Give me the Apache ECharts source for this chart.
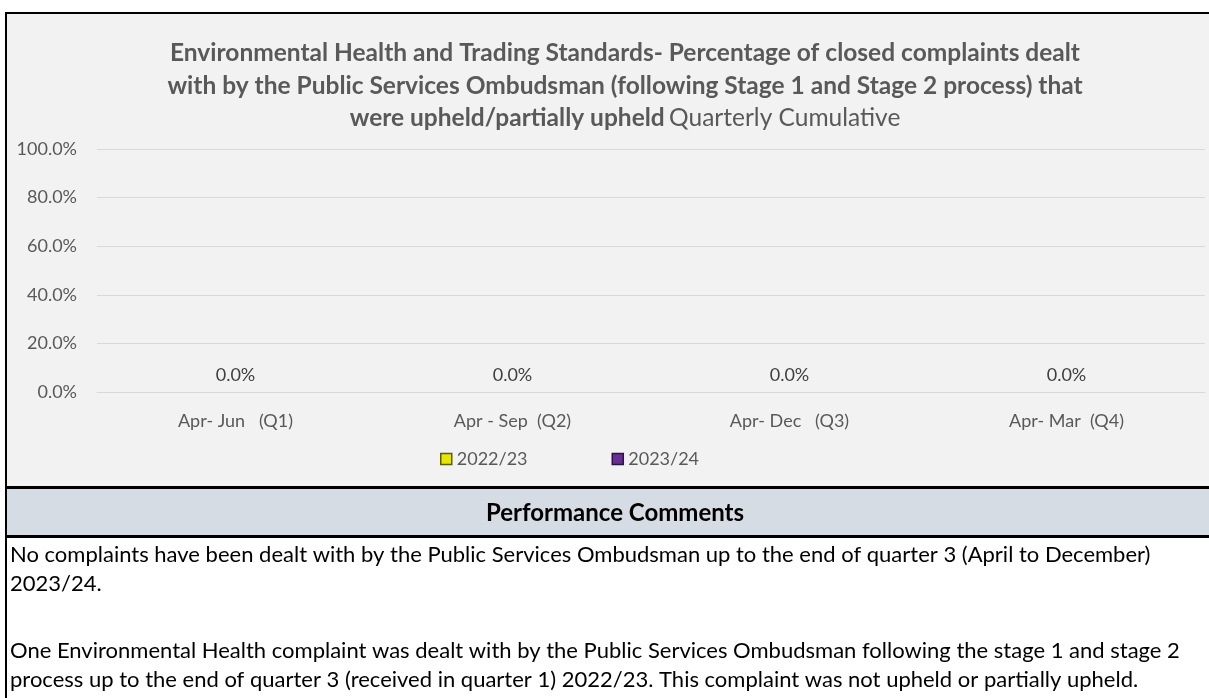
<!DOCTYPE html>
<html>
<head>
<meta charset="utf-8">
<script src="https://cdn.jsdelivr.net/npm/echarts@6/dist/echarts.min.js"></script>
<style>
html,body{margin:0;padding:0;background:#fff;}
#chart{width:1209px;height:698px;}
</style>
</head>
<body>
<div id="chart"></div>
<script>
var categories = ['Apr- Jun   (Q1)', 'Apr - Sep  (Q2)', 'Apr- Dec   (Q3)', 'Apr- Mar  (Q4)'];
var seriesNames = ['2022/23', '2023/24'];
var values2022 = [0, 0, 0, 0];
var values2023 = [0, 0, 0, null];
var yTicks = [0, 0.2, 0.4, 0.6, 0.8, 1.0];
var titleLines = [
  'Environmental Health and Trading Standards- Percentage of closed complaints dealt',
  'with by the Public Services Ombudsman (following Stage 1 and Stage 2 process) that',
  'were upheld/partially upheld'
];
var titleSuffix = 'Quarterly Cumulative';
var commentHeader = 'Performance Comments';
var commentParagraphs = [
  ['No complaints have been dealt with by the Public Services Ombudsman up to the end of quarter 3 (April to December)',
   '2023/24.'],
  ['One Environmental Health complaint was dealt with by the Public Services Ombudsman following the stage 1 and stage 2',
   'process up to the end of quarter 3 (received in quarter 1) 2022/23. This complaint was not upheld or partially upheld.']
];

var FONT = 'Lato';
var chart = echarts.init(document.getElementById('chart'));

var commentEls = [];
var LINE_H = 29, PARA_GAP = 67;
commentParagraphs.forEach(function (para, pi) {
  para.forEach(function (t, li) {
    commentEls.push({
      type: 'text', left: 10, top: 544 + pi * (LINE_H + PARA_GAP) + li * LINE_H, z: 5,
      style: { text: t, fill: '#000', font: '22px ' + FONT }
    });
  });
});

var option = {
  backgroundColor: '#ffffff',
  animation: false,
  textStyle: { fontFamily: FONT },
  title: {
    left: 620, top: 32, textAlign: 'center',
    text: '{b|' + titleLines[0] + '}\n{b|' + titleLines[1] + '}\n{b|' + titleLines[2] + '} {n|' + titleSuffix + '}',
    textStyle: {
      rich: {
        b: { fontFamily: FONT, fontWeight: 'bold', fontSize: 24.5, color: '#595959', lineHeight: 32.5 },
        n: { fontFamily: FONT, fontWeight: 'normal', fontSize: 24.5, color: '#595959', lineHeight: 32.5 }
      }
    }
  },
  legend: {
    left: 435, top: 445,
    itemWidth: 11, itemHeight: 11, itemGap: 84,
    icon: 'rect',
    textStyle: { fontFamily: FONT, fontSize: 18, color: '#595959' },
    data: [
      { name: seriesNames[0], itemStyle: { color: '#e6e600', borderColor: '#5c5c00', borderWidth: 1.5 } },
      { name: seriesNames[1], itemStyle: { color: '#6a2d96', borderColor: '#2e1145', borderWidth: 1.5 } }
    ]
  },
  grid: { left: 97, right: 4, top: 149, bottom: 306, containLabel: false },
  xAxis: {
    type: 'category', data: categories,
    axisLine: { show: true, lineStyle: { color: '#d9d9d9', width: 1 } },
    axisTick: { show: false },
    axisLabel: { margin: 20, fontFamily: FONT, fontSize: 18, color: '#595959' }
  },
  yAxis: {
    type: 'value', min: yTicks[0], max: yTicks[yTicks.length - 1], interval: yTicks[1] - yTicks[0],
    axisLine: { show: false }, axisTick: { show: false },
    splitLine: { lineStyle: { color: '#d9d9d9', width: 1 } },
    axisLabel: {
      margin: 20, fontFamily: FONT, fontSize: 18, color: '#595959',
      formatter: function (v) { return (v * 100).toFixed(1) + '%'; }
    }
  },
  series: [
    {
      name: seriesNames[0], type: 'bar', data: values2022, barGap: '-100%', barWidth: 40,
      itemStyle: { color: '#e6e600', borderWidth: 0 },
      label: {
        show: true, position: 'top', distance: 8,
        fontFamily: FONT, fontSize: 18, color: '#404040',
        formatter: function (p) { return (p.value * 100).toFixed(1) + '%'; }
      }
    },
    {
      name: seriesNames[1], type: 'bar', data: values2023, barWidth: 40,
      itemStyle: { color: '#6a2d96', borderWidth: 0 },
      label: { show: false }
    }
  ],
  graphic: [
    { type: 'rect', z: -10, shape: { x: 6, y: 13, width: 1210, height: 474 }, style: { fill: '#f2f2f2' } },
    { type: 'rect', z: -10, shape: { x: 6, y: 488, width: 1210, height: 48 }, style: { fill: '#d6dce4' } },
    { type: 'line', z: 10, shape: { x1: 5, y1: 13, x2: 1209, y2: 13 }, style: { stroke: '#000', lineWidth: 2 } },
    { type: 'line', z: 10, shape: { x1: 6, y1: 12, x2: 6, y2: 698 }, style: { stroke: '#000', lineWidth: 2 } },
    { type: 'line', z: 10, shape: { x1: 5, y1: 487.5, x2: 1209, y2: 487.5 }, style: { stroke: '#000', lineWidth: 3 } },
    { type: 'line', z: 10, shape: { x1: 5, y1: 536.5, x2: 1209, y2: 536.5 }, style: { stroke: '#000', lineWidth: 3 } },
    {
      type: 'text', z: 10, x: 615, y: 513,
      style: { text: commentHeader, fill: '#000', font: 'bold 24px ' + FONT, textAlign: 'center', textVerticalAlign: 'middle' }
    }
  ].concat(commentEls)
};
chart.setOption(option);
</script>
</body>
</html>
